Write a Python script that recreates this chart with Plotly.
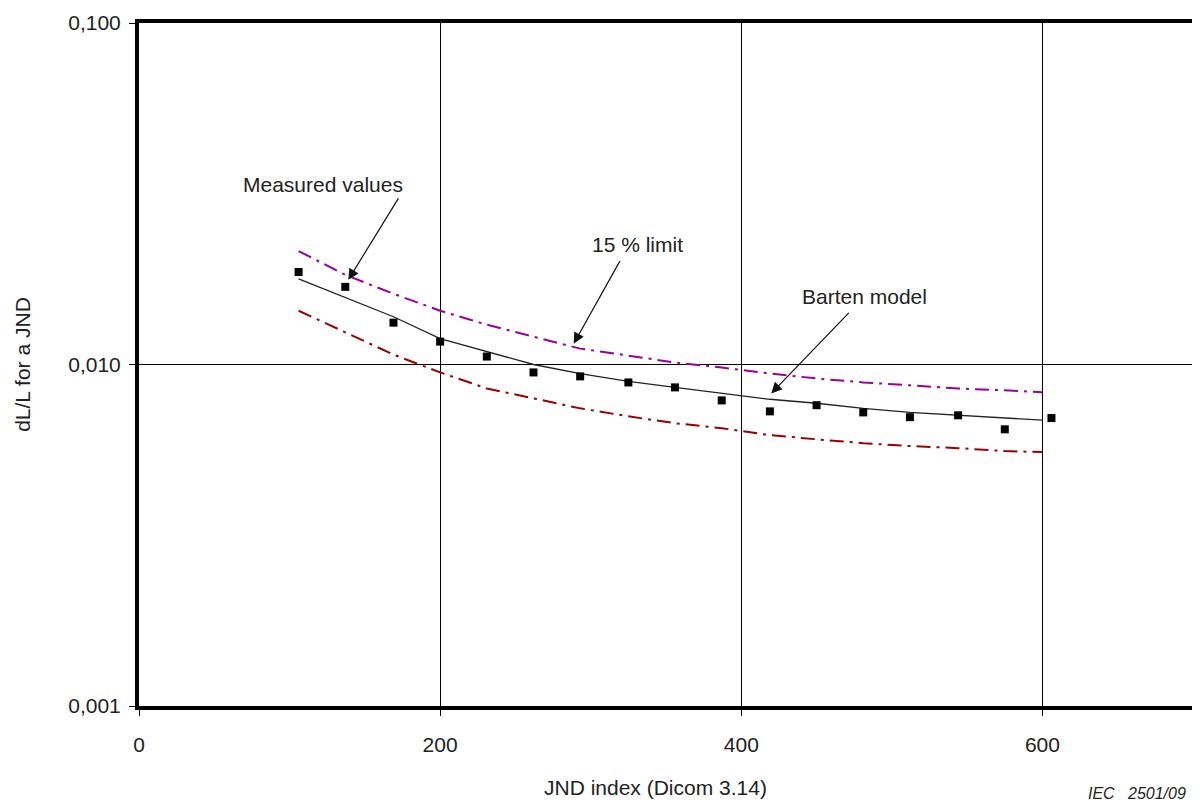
import numpy as np
import plotly.graph_objects as go

# Measured values
meas_x = [106, 137, 169, 200, 231, 262, 293, 325, 356, 387, 419, 450, 481, 512, 544, 575, 606]
meas_y = [0.01866, 0.01688, 0.01326, 0.01167, 0.01055, 0.00948, 0.00923, 0.00886, 0.00857,
          0.00785, 0.00729, 0.00760, 0.00724, 0.00701, 0.00710, 0.00646, 0.00697]

# Curves
line_x = [106, 137, 169, 200, 231, 262, 293, 325, 356, 387, 419, 450, 481, 512, 544, 575, 600]
barten_y = [0.01782, 0.01568, 0.01380, 0.01191, 0.01091, 0.01000, 0.00941, 0.00892, 0.00857,
            0.00823, 0.00791, 0.00770, 0.00744, 0.00724, 0.00710, 0.00697, 0.00687]
upper_y = [0.02149, 0.01830, 0.01611, 0.01437, 0.01308, 0.01207, 0.01113, 0.01062, 0.01013,
           0.00980, 0.00941, 0.00910, 0.00886, 0.00869, 0.00851, 0.00840, 0.00829]
lower_y = [0.01437, 0.01240, 0.01069, 0.00948, 0.00851, 0.00796, 0.00744, 0.00705, 0.00673,
           0.00651, 0.00621, 0.00604, 0.00588, 0.00577, 0.00569, 0.00558, 0.00554]

x_ticks = [0, 200, 400, 600]
x_ticktext = ["0", "200", "400", "600"]
y_ticks = [0.001, 0.01, 0.1]
y_ticktext = ["0,001", "0,010", "0,100"]

FONT = "Liberation Sans, Arial, sans-serif"
TXT = "#222222"

fig = go.Figure()
fig.add_trace(go.Scatter(x=line_x, y=upper_y, mode="lines",
                         line=dict(color="#990099", width=2, dash="14px,6px,3px,6px")))
fig.add_trace(go.Scatter(x=line_x, y=lower_y, mode="lines",
                         line=dict(color="#990000", width=2, dash="14px,6px,3px,6px")))
fig.add_trace(go.Scatter(x=line_x, y=barten_y, mode="lines",
                         line=dict(color="#222222", width=1.3)))
fig.add_trace(go.Scatter(x=meas_x, y=meas_y, mode="markers",
                         marker=dict(symbol="square", size=8, color="black")))

annotations = []
# labels
for txt, x, y in [("Measured values", 122.5, 0.0337),
                  ("15 % limit", 331, 0.02239),
                  ("Barten model", 482, 0.01579)]:
    annotations.append(dict(x=x, y=np.log10(y), xref="x", yref="y", text=txt,
                            showarrow=False, font=dict(family=FONT, size=21, color=TXT)))
# arrows
for x, y, ax, ay in [(139, 0.0177, 51, -83), (288.7, 0.01151, 47, -84), (419.9, 0.00823, 79, -82)]:
    annotations.append(dict(x=x, y=np.log10(y), xref="x", yref="y", text="",
                            showarrow=True, ax=ax, ay=ay, arrowhead=2, arrowsize=1.8,
                            arrowwidth=1.2, arrowcolor="#111111", standoff=0))

annotations.append(dict(x=0.490, y=-0.1195, xref="paper", yref="paper",
                        text="JND index (Dicom 3.14)", showarrow=False,
                        xanchor="center", yanchor="middle",
                        font=dict(family=FONT, size=21, color=TXT)))
annotations.append(dict(x=-0.1107, y=0.5, xref="paper", yref="paper",
                        text="dL/L for a JND", showarrow=False, textangle=-90,
                        xanchor="center", yanchor="middle",
                        font=dict(family=FONT, size=21, color=TXT)))
annotations.append(dict(x=0.947, y=-0.128, xref="paper", yref="paper",
                        text="<i>IEC   2501/09</i>", showarrow=False,
                        xanchor="center", yanchor="middle",
                        font=dict(family=FONT, size=16, color=TXT)))

# page body has an 8px default margin, so the figure is sized/offset to compensate
fig.update_layout(
    width=1192, height=799,
    margin=dict(l=131, r=3, t=12, b=101),
    paper_bgcolor="white", plot_bgcolor="white",
    showlegend=False,
    annotations=annotations,
    font=dict(family=FONT, size=21, color=TXT),
)
fig.update_xaxes(range=[0, 700], tickmode="array", tickvals=x_ticks, ticktext=x_ticktext,
                 showgrid=True, gridcolor="black", gridwidth=1,
                 showline=True, linecolor="black", linewidth=4, mirror=True,
                 ticks="outside", ticklen=6, tickcolor="black", tickwidth=1,
                 ticklabelstandoff=11, zeroline=False)
fig.update_yaxes(type="log", range=[-3, -1], tickmode="array", tickvals=y_ticks,
                 ticktext=y_ticktext,
                 showgrid=True, gridcolor="black", gridwidth=1,
                 showline=True, linecolor="black", linewidth=4, mirror=True,
                 ticks="outside", ticklen=6, tickcolor="black", tickwidth=1,
                 ticklabelstandoff=4, zeroline=False)

fig.write_html("out.html")
